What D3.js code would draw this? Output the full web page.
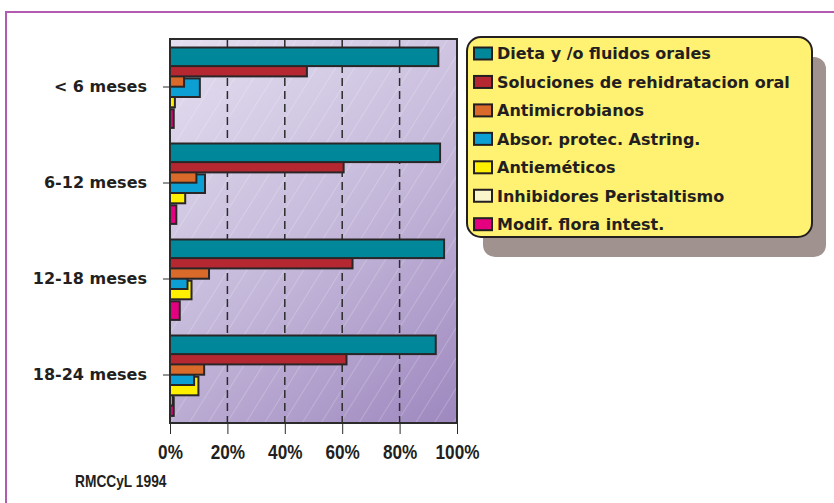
<!DOCTYPE html>
<html>
<head>
<meta charset="utf-8">
<script src="https://cdn.jsdelivr.net/npm/d3@7"></script>
<style>
  html, body { margin: 0; padding: 0; background: #fff; }
  svg { display: block; }
</style>
</head>
<body>
<div id="chart"></div>
<script>
// data (percent of cases per age group)
const AGE_GROUPS = ['< 6 meses', '6-12 meses', '12-18 meses', '18-24 meses'];
const TREATMENTS = [
  'Dieta y /o fluidos orales',
  'Soluciones de rehidratacion oral',
  'Antimicrobianos',
  'Absor. protec. Astring.',
  'Antieméticos',
  'Inhibidores Peristaltismo',
  'Modif. flora intest.',
];
const dieta = [93.5, 94.1, 95.5, 92.6];
const soluciones = [47.7, 60.5, 63.6, 61.5];
const antimicrobianos = [4.9, 9.2, 13.6, 11.9];
const absorbentes = [10.4, 12.2, 6.1, 8.4];
const antiemeticos = [1.7, 5.3, 7.5, 9.9];
const inhibidores = [0, 0, 0, 0.9];
const floraIntest = [1.3, 2.2, 3.4, 1.3];
const X_TICKS = [0, 20, 40, 60, 80, 100];
const SOURCE = 'RMCCyL 1994';

const SERIES_VALUES = [dieta, soluciones, antimicrobianos, absorbentes,
  antiemeticos, inhibidores, floraIntest];

const COLOR = new Map([
  [TREATMENTS[0], '#00879a'],
  [TREATMENTS[1], '#b52832'],
  [TREATMENTS[2], '#d96a29'],
  [TREATMENTS[3], '#0b9fd4'],
  [TREATMENTS[4], '#fff000'],
  [TREATMENTS[5], '#fbf5cc'],
  [TREATMENTS[6], '#e4007f'],
]);

const FONT = '"DejaVu Sans", sans-serif';
const NARROW = '"Liberation Sans Narrow", "Liberation Sans", sans-serif';
const INK = '#231f20';

class TreatmentChart {
  constructor(selector) {
    this.selector = selector;
    this.width = 834;
    this.height = 503;
    this.svg = null;
    this.rows = null;

    this.plot = { left: 170, right: 457, top: 39, bottom: 423 };
    this.config = {
      barOffset: 8.5,
      barStep: 10.3,
      barStroke: 2,
      // the tick labels in the original are set in a condensed face
      squeeze: 0.86,
    };
    this.scales = { x: null, y: null, yInner: null };
  }

  data() {
    this.rows = AGE_GROUPS.flatMap((group, gi) => TREATMENTS.map((treatment, ti) => ({
      group, treatment, index: ti, value: SERIES_VALUES[ti][gi],
    })));
    return this;
  }

  draw() {
    return this
      .setUpSVG()
      .createDefs()
      .setUpScales()
      .drawBackground()
      .drawData()
      .drawAxis()
      .drawLegend();
  }

  setUpSVG() {
    this.svg = d3.select(this.selector)
      .append('svg')
      .attr('width', this.width)
      .attr('height', this.height);

    // purple frame (only top and left edges fall inside the picture)
    this.svg.append('path')
      .attr('d', `M6,${this.height + 5} L6,12 L${this.width + 5},12`)
      .attr('fill', 'none')
      .attr('stroke', '#b25bb0')
      .attr('stroke-width', 2);

    return this;
  }

  createDefs() {
    const { left, right, top, bottom } = this.plot;
    const defs = this.svg.append('defs');

    defs.append('linearGradient')
      .attr('id', 'plot-bg')
      .attr('gradientUnits', 'userSpaceOnUse')
      .attr('x1', left).attr('y1', top)
      .attr('x2', right).attr('y2', bottom)
      .call((g) => g.append('stop').attr('offset', 0).attr('stop-color', '#e4dff0'))
      .call((g) => g.append('stop').attr('offset', 0.5).attr('stop-color', '#c6badb'))
      .call((g) => g.append('stop').attr('offset', 1).attr('stop-color', '#9e88bf'));

    defs.append('pattern')
      .attr('id', 'hatch')
      .attr('patternUnits', 'userSpaceOnUse')
      .attr('width', 16)
      .attr('height', 16)
      .attr('patternTransform', 'rotate(32)')
      .append('line')
      .attr('x1', 0).attr('y1', 0)
      .attr('x2', 0).attr('y2', 16)
      .attr('stroke', '#fff')
      .attr('stroke-opacity', 0.45)
      .attr('stroke-width', 0.9);

    return this;
  }

  setUpScales() {
    const { left, right, top, bottom } = this.plot;
    const { barOffset, barStep } = this.config;

    this.scales.x = d3.scaleLinear()
      .domain([0, 100])
      .range([left, right]);

    this.scales.y = d3.scaleBand()
      .domain(AGE_GROUPS)
      .range([top, bottom]);

    this.scales.yInner = d3.scaleBand()
      .domain(TREATMENTS)
      .range([barOffset, barOffset + TREATMENTS.length * barStep]);

    return this;
  }

  drawBackground() {
    const { left, right, top, bottom } = this.plot;
    const { x } = this.scales;

    this.svg.append('rect')
      .attr('x', left).attr('y', top)
      .attr('width', right - left).attr('height', bottom - top)
      .attr('fill', 'url(#plot-bg)');

    this.svg.append('rect')
      .attr('x', left).attr('y', top)
      .attr('width', right - left).attr('height', bottom - top)
      .attr('fill', 'url(#hatch)');

    this.svg.append('g')
      .attr('class', 'grid')
      .selectAll('line')
      .data(X_TICKS.slice(1, -1))
      .join('line')
      .attr('x1', (d) => x(d))
      .attr('x2', (d) => x(d))
      .attr('y1', top)
      .attr('y2', bottom)
      .attr('stroke', '#2b2b2b')
      .attr('stroke-width', 1.5)
      .attr('stroke-dasharray', '8,5');

    return this;
  }

  drawData() {
    const { x, y, yInner } = this.scales;
    const { barStroke } = this.config;

    // later series sit underneath, so the first one ends up on top
    const bars = this.rows
      .filter((d) => d.value > 0)
      .sort((a, b) => d3.descending(a.index, b.index));

    this.svg.append('g')
      .attr('class', 'bars')
      .selectAll('rect')
      .data(bars)
      .join('rect')
      .attr('x', x(0))
      .attr('y', (d) => y(d.group) + yInner(d.treatment))
      .attr('width', (d) => x(d.value) - x(0))
      .attr('height', yInner.bandwidth() * 2 - barStroke)
      .attr('fill', (d) => COLOR.get(d.treatment))
      .attr('stroke', '#2a2627')
      .attr('stroke-width', barStroke);

    return this;
  }

  drawAxis() {
    const { left, right, top, bottom } = this.plot;
    const { x, y } = this.scales;
    const { squeeze } = this.config;

    this.svg.append('rect')
      .attr('x', left).attr('y', top)
      .attr('width', right - left).attr('height', bottom - top)
      .attr('fill', 'none')
      .attr('stroke', '#2b2b2b')
      .attr('stroke-width', 2);

    this.svg.append('g')
      .attr('class', 'axis-x')
      .attr('transform', `translate(0,${bottom + 1})`)
      .call(d3.axisBottom(x)
        .tickValues(X_TICKS)
        .tickSize(10)
        .tickPadding(11)
        .tickFormat((d) => `${d}%`))
      .call((g) => g.select('.domain').remove())
      .call((g) => g.selectAll('.tick line')
        .attr('stroke', '#2b2b2b')
        .attr('stroke-width', 1))
      .call((g) => g.selectAll('.tick text')
        .attr('fill', INK)
        .attr('font-family', NARROW)
        .attr('font-size', 20)
        .attr('font-weight', 'bold')
        .attr('transform', `scale(${squeeze},1)`));

    this.svg.append('g')
      .attr('class', 'axis-y')
      .attr('transform', `translate(${left},0)`)
      .call(d3.axisLeft(y)
        .tickSize(7)
        .tickPadding(16))
      .call((g) => g.select('.domain').remove())
      .call((g) => g.selectAll('.tick line')
        .attr('stroke', '#2b2b2b')
        .attr('stroke-width', 1))
      .call((g) => g.selectAll('.tick text')
        .attr('fill', INK)
        .attr('font-family', FONT)
        .attr('font-size', 16)
        .attr('font-weight', 'bold'));

    this.svg.append('text')
      .attr('transform', `translate(75,487) scale(${squeeze},1)`)
      .attr('fill', INK)
      .attr('font-family', NARROW)
      .attr('font-size', 16)
      .attr('font-weight', 'bold')
      .text(SOURCE);

    return this;
  }

  drawLegend() {
    const box = { x: 467, y: 37, width: 345, height: 200 };
    const rowStep = 28.45;
    const firstRow = 53.5;

    this.svg.append('rect')
      .attr('x', box.x + 16).attr('y', box.y + 20)
      .attr('width', box.width - 2).attr('height', box.height)
      .attr('rx', 12)
      .attr('fill', '#a0938f');

    this.svg.append('rect')
      .attr('x', box.x).attr('y', box.y)
      .attr('width', box.width).attr('height', box.height)
      .attr('rx', 14)
      .attr('fill', '#fff171')
      .attr('stroke', INK)
      .attr('stroke-width', 2);

    this.svg.append('g')
      .attr('class', 'legend')
      .selectAll('g')
      .data(TREATMENTS)
      .join('g')
      .attr('transform', (_, i) => `translate(${box.x + 7},${firstRow + i * rowStep})`)
      .call((g) => g
        .append('rect')
        .attr('x', 0)
        .attr('y', -6)
        .attr('width', 18)
        .attr('height', 12)
        .attr('fill', (d) => COLOR.get(d))
        .attr('stroke', INK)
        .attr('stroke-width', 2))
      .call((g) => g
        .append('text')
        .attr('x', 23)
        .attr('dy', '0.36em')
        .attr('fill', INK)
        .attr('font-family', FONT)
        .attr('font-size', 16)
        .attr('font-weight', 'bold')
        .text((d) => d));

    return this;
  }
}

new TreatmentChart('#chart').data().draw();
</script>
</body>
</html>
